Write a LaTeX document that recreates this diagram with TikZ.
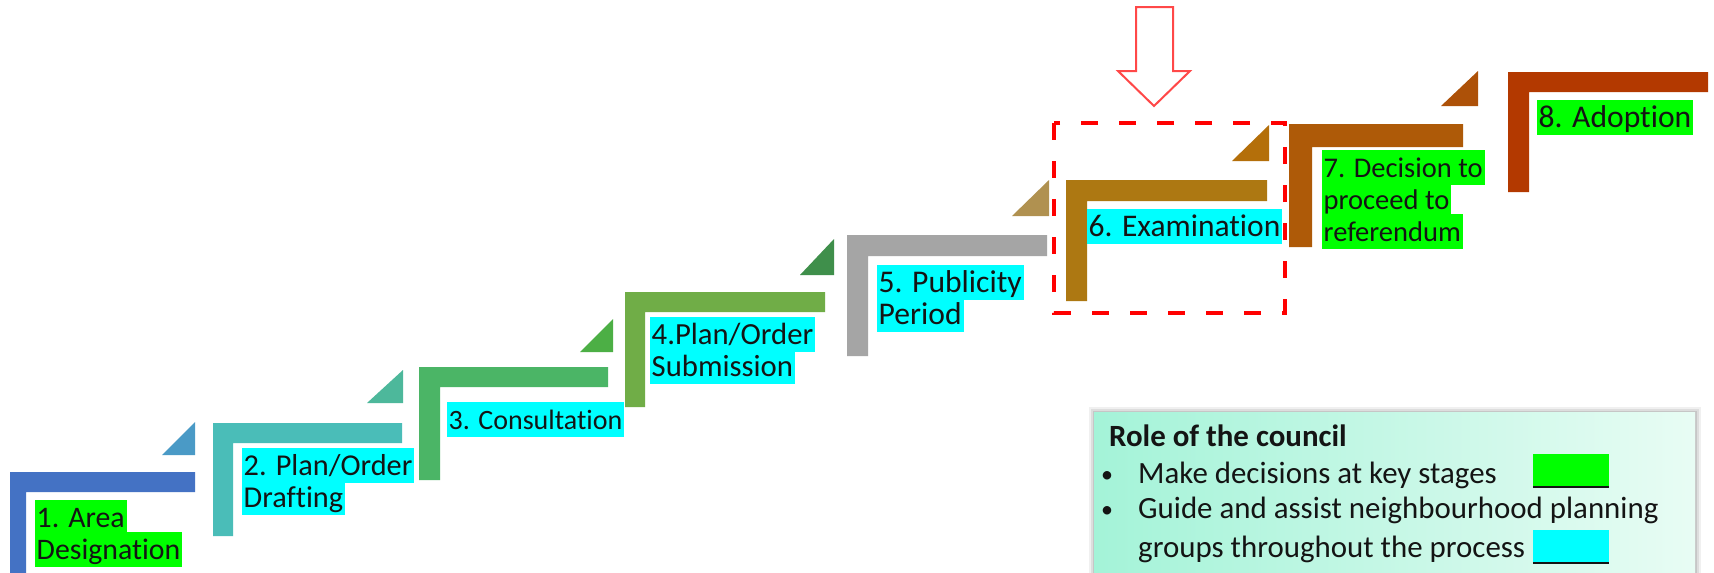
\documentclass[tikz,border=0pt]{standalone}
\usepackage{fontspec}
\setmainfont{Carlito}[Ligatures=NoCommon]
\definecolor{hlg}{HTML}{00FF00}
\definecolor{hlc}{HTML}{00FFFF}
\definecolor{sA}{HTML}{4472C4}
\definecolor{tA}{HTML}{4A9AC6}
\definecolor{sB}{HTML}{4ABDB8}
\definecolor{tB}{HTML}{4DB89B}
\definecolor{sC}{HTML}{4BB566}
\definecolor{tC}{HTML}{4CAF45}
\definecolor{sD}{HTML}{70AD47}
\definecolor{tD}{HTML}{3F8F4B}
\definecolor{sE}{HTML}{A5A5A5}
\definecolor{tE}{HTML}{B09150}
\definecolor{sF}{HTML}{AD7812}
\definecolor{tF}{HTML}{B46F0A}
\definecolor{sG}{HTML}{AE5A08}
\definecolor{tG}{HTML}{AD5108}
\definecolor{sH}{HTML}{B33900}
\definecolor{arrowred}{HTML}{FF4848}
\definecolor{boxred}{HTML}{FF0000}
\definecolor{mintL}{HTML}{A4F3D8}
\definecolor{mintR}{HTML}{E8FCF4}
\definecolor{txt}{HTML}{141414}
\newcommand\hlbox[2]{{\setlength\fboxsep{0pt}\colorbox{#1}{\rule[-8pt]{0pt}{35pt}\hspace{1.5pt}#2\hspace{2pt}}}}
\newcommand\lblfont[1]{\fontsize{#1}{32}\selectfont\lineskiplimit=-100pt\relax}
% color, x0, x1, ytop, thickness, vertical width, yend
\newcommand\drawstair[7]{\fill[#1] (#2,#4) -- (#3,#4) -- (#3,{#4+#5}) -- ({#2+#6},{#4+#5}) -- ({#2+#6},#7) -- (#2,#7) -- cycle;}
% color, xleft, xright, ytop, ybottom
\newcommand\drawwedge[5]{\fill[#1] (#2,#5) -- (#3,#5) -- (#3,#4) -- cycle;}
\tikzset{
  lbl/.style={anchor=north west, inner sep=0pt, align=left, text=txt, font={\lblfont{#1}}},
  legtxt/.style={anchor=base west, inner sep=0pt, text=txt, font=\fontsize{30.9}{35}\selectfont},
  legbullet/.style={anchor=base west, inner sep=0pt, text=txt, font=\fontsize{24}{30}\selectfont},
  swatch/.style={anchor=north west, inner sep=0pt, minimum width=76pt, minimum height=34pt},
  arrowst/.style={draw=arrowred, line width=2pt, fill=white, line join=miter},
  focusbox/.style={draw=boxred, line width=4pt, dash pattern=on 17pt off 21pt}
}
\begin{document}
\begin{tikzpicture}[x=1pt,y=-1pt]
\useasboundingbox (0,0) rectangle (1714,573);
\clip (0,0) rectangle (1714,573);
\fill[white] (0,0) rectangle (1714,573);
% stairs
\drawstair{sA}{10}{195}{472}{20}{16}{600}
\drawwedge{tA}{162}{195}{422}{455}
\drawstair{sB}{213}{402}{423}{20}{20}{536}
\drawwedge{tB}{367}{403}{370}{403}
\drawstair{sC}{419}{608}{367}{20}{21}{480}
\drawwedge{tC}{580}{613}{319}{352}
\drawstair{sD}{625}{825}{292}{20}{20}{407}
\drawwedge{tD}{800}{834}{239}{275}
\drawstair{sE}{847}{1047}{235}{21}{21}{356}
\drawwedge{tE}{1012}{1049}{180}{216}
\drawstair{sF}{1066}{1267}{180}{21}{21}{301}
\drawwedge{tF}{1232}{1269}{125}{161}
\drawstair{sG}{1289}{1463}{124}{23}{23}{247}
\drawwedge{tG}{1441}{1478}{71}{106}
\drawstair{sH}{1508}{1708}{72}{20}{21}{192}
% labels
\node[lbl=29.8] (l1) at (35,500) {\hlbox{hlg}{1. Area}\\\hlbox{hlg}{Designation}};
\node[lbl=30.3] (l2) at (242,448) {\hlbox{hlc}{2. Plan/Order}\\\hlbox{hlc}{Drafting}};
\node[lbl=28] (l3) at (447,402) {\hlbox{hlc}{3. Consultation}};
\node[lbl=30.7] (l4) at (650,317) {\hlbox{hlc}{4.Plan/Order}\\\hlbox{hlc}{Submission}};
\node[lbl=31.6] (l5) at (877,265) {\hlbox{hlc}{5. Publicity}\\\hlbox{hlc}{Period}};
\node[lbl=31.5] (l6) at (1087,209) {\hlbox{hlc}{6. Examination}};
\node[lbl=28.5] (l7) at (1322,150) {\hlbox{hlg}{7. Decision to}\\\hlbox{hlg}{proceed to}\\\hlbox{hlg}{referendum}};
\node[lbl=31.6] (l8) at (1537,100) {\hlbox{hlg}{8. Adoption}};
% focus box and arrow
\draw[focusbox] (1054,123) rectangle (1285,313);
\draw[arrowst] (1136,7) -- (1173,7) -- (1173,71) -- (1190,71) -- (1154,106) -- (1118,71) -- (1136,71) -- cycle;
% legend
\fill[black, opacity=0.06] (1089,407) rectangle (1701,600);
\fill[black, opacity=0.08] (1091,409) rectangle (1699,600);
\fill[black, opacity=0.10] (1093,411) rectangle (1697,600);
\fill[left color=mintL, right color=mintR] (1094,412) rectangle (1695,600);
\node[legtxt] (lt) at (1109,446) {\bfseries Role of the council};
\node[legbullet] (b1) at (1101,482) {\textbullet};
\node[legtxt] (i1) at (1138,483) {Make decisions at key stages};
\node[legbullet] (b2) at (1101,517) {\textbullet};
\node[legtxt] (i2) at (1138,518) {Guide and assist neighbourhood planning};
\node[legtxt] (i3) at (1138,557) {groups throughout the process};
\node[swatch, fill=hlg] (sg) at (1533,454) {};
\node[swatch, fill=hlc] (sc) at (1533,530) {};
\draw[line width=2pt, txt] ([yshift=1pt]sg.south west) -- ([yshift=1pt]sg.south east);
\draw[line width=2pt, txt] ([yshift=1pt]sc.south west) -- ([yshift=1pt]sc.south east);
\end{tikzpicture}
\end{document}
